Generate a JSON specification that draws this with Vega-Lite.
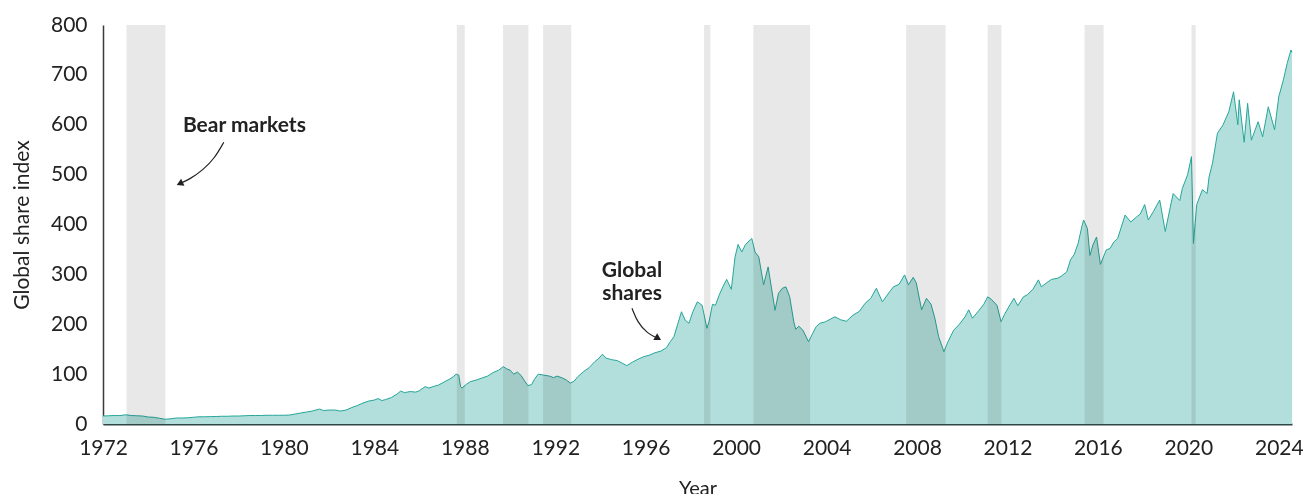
{
  "$schema": "https://vega.github.io/schema/vega-lite/v6.json",
  "width": 1189,
  "height": 399,
  "autosize": {"type": "none"},
  "padding": {"left": 103, "top": 25, "right": 11, "bottom": 70},
  "background": "white",
  "config": {
    "view": {"stroke": null},
    "font": "Lato",
    "text": {"font": "Lato"}
  },
  "datasets": {
    "series": [
      {"date": "1972-01-01", "value": 16}, {"date": "1972-04-01", "value": 16.5}, {"date": "1972-07-01", "value": 17}, {"date": "1972-10-01", "value": 16.8},
      {"date": "1973-01-01", "value": 18.5}, {"date": "1973-04-01", "value": 17}, {"date": "1973-07-01", "value": 16.5}, {"date": "1973-10-01", "value": 16},
      {"date": "1974-01-01", "value": 14}, {"date": "1974-04-01", "value": 13.5}, {"date": "1974-07-01", "value": 11.5}, {"date": "1974-10-01", "value": 9.5},
      {"date": "1975-01-01", "value": 10.5}, {"date": "1975-04-01", "value": 12}, {"date": "1975-07-01", "value": 12}, {"date": "1975-10-01", "value": 12.5},
      {"date": "1976-01-01", "value": 13.5}, {"date": "1976-04-01", "value": 14.5}, {"date": "1976-07-01", "value": 14.5}, {"date": "1976-10-01", "value": 14.8},
      {"date": "1977-01-01", "value": 15}, {"date": "1977-04-01", "value": 15.5}, {"date": "1977-07-01", "value": 15.5}, {"date": "1977-10-01", "value": 16},
      {"date": "1978-01-01", "value": 16}, {"date": "1978-04-01", "value": 16.5}, {"date": "1978-07-01", "value": 17}, {"date": "1978-10-01", "value": 17},
      {"date": "1979-01-01", "value": 17}, {"date": "1979-04-01", "value": 17.5}, {"date": "1979-07-01", "value": 17.5}, {"date": "1979-10-01", "value": 17.5},
      {"date": "1980-01-01", "value": 17.5}, {"date": "1980-04-01", "value": 18}, {"date": "1980-07-01", "value": 20}, {"date": "1980-10-01", "value": 22},
      {"date": "1981-01-01", "value": 24}, {"date": "1981-04-01", "value": 26}, {"date": "1981-08-01", "value": 30}, {"date": "1981-10-01", "value": 27},
      {"date": "1982-01-01", "value": 28}, {"date": "1982-04-01", "value": 28}, {"date": "1982-07-01", "value": 26}, {"date": "1982-10-01", "value": 28},
      {"date": "1983-01-01", "value": 33}, {"date": "1983-04-01", "value": 37}, {"date": "1983-07-01", "value": 42}, {"date": "1983-10-01", "value": 46},
      {"date": "1984-01-01", "value": 48}, {"date": "1984-03-01", "value": 51}, {"date": "1984-05-01", "value": 47}, {"date": "1984-07-01", "value": 49}, {"date": "1984-10-01", "value": 53},
      {"date": "1985-01-01", "value": 60}, {"date": "1985-03-01", "value": 66}, {"date": "1985-05-01", "value": 63}, {"date": "1985-08-01", "value": 65}, {"date": "1985-11-01", "value": 64},
      {"date": "1986-01-01", "value": 67}, {"date": "1986-04-01", "value": 75}, {"date": "1986-06-01", "value": 72}, {"date": "1986-09-01", "value": 76}, {"date": "1986-11-01", "value": 78},
      {"date": "1987-01-01", "value": 82}, {"date": "1987-03-01", "value": 86}, {"date": "1987-05-01", "value": 90}, {"date": "1987-07-01", "value": 95}, {"date": "1987-08-15", "value": 100}, {"date": "1987-09-25", "value": 98}, {"date": "1987-10-25", "value": 75}, {"date": "1987-11-20", "value": 72}, {"date": "1987-12-20", "value": 76},
      {"date": "1988-02-01", "value": 80}, {"date": "1988-04-01", "value": 85}, {"date": "1988-07-01", "value": 88}, {"date": "1988-10-01", "value": 92},
      {"date": "1989-01-01", "value": 96}, {"date": "1989-04-01", "value": 103}, {"date": "1989-07-01", "value": 108}, {"date": "1989-09-15", "value": 115}, {"date": "1989-11-01", "value": 111},
      {"date": "1990-01-01", "value": 108}, {"date": "1990-03-01", "value": 100}, {"date": "1990-05-01", "value": 104}, {"date": "1990-07-01", "value": 97}, {"date": "1990-08-15", "value": 88}, {"date": "1990-10-15", "value": 77}, {"date": "1990-12-15", "value": 79},
      {"date": "1991-02-01", "value": 90}, {"date": "1991-04-01", "value": 100}, {"date": "1991-07-01", "value": 98}, {"date": "1991-10-01", "value": 96}, {"date": "1991-12-01", "value": 93},
      {"date": "1992-02-01", "value": 96}, {"date": "1992-05-01", "value": 92}, {"date": "1992-07-01", "value": 88}, {"date": "1992-09-01", "value": 82}, {"date": "1992-11-01", "value": 86},
      {"date": "1993-01-01", "value": 95}, {"date": "1993-04-01", "value": 105}, {"date": "1993-07-01", "value": 113}, {"date": "1993-10-01", "value": 125}, {"date": "1993-12-01", "value": 131},
      {"date": "1994-02-01", "value": 140}, {"date": "1994-04-01", "value": 132}, {"date": "1994-07-01", "value": 129}, {"date": "1994-10-01", "value": 127},
      {"date": "1995-01-01", "value": 121}, {"date": "1995-03-01", "value": 117}, {"date": "1995-06-01", "value": 124}, {"date": "1995-09-01", "value": 130}, {"date": "1995-12-01", "value": 135},
      {"date": "1996-03-01", "value": 138}, {"date": "1996-06-01", "value": 143}, {"date": "1996-09-01", "value": 146}, {"date": "1996-12-01", "value": 153},
      {"date": "1997-02-01", "value": 165}, {"date": "1997-04-01", "value": 175}, {"date": "1997-06-01", "value": 200}, {"date": "1997-08-01", "value": 225}, {"date": "1997-10-01", "value": 208}, {"date": "1997-12-01", "value": 202},
      {"date": "1998-02-01", "value": 225}, {"date": "1998-04-15", "value": 245}, {"date": "1998-07-01", "value": 238}, {"date": "1998-09-15", "value": 192}, {"date": "1998-10-20", "value": 205}, {"date": "1998-12-15", "value": 240},
      {"date": "1999-02-01", "value": 238}, {"date": "1999-04-01", "value": 258}, {"date": "1999-06-01", "value": 275}, {"date": "1999-08-01", "value": 290}, {"date": "1999-10-15", "value": 270}, {"date": "1999-12-15", "value": 335},
      {"date": "2000-02-01", "value": 360}, {"date": "2000-04-01", "value": 345}, {"date": "2000-06-01", "value": 360}, {"date": "2000-09-10", "value": 372}, {"date": "2000-11-01", "value": 345},
      {"date": "2001-01-01", "value": 335}, {"date": "2001-03-20", "value": 279}, {"date": "2001-06-01", "value": 315}, {"date": "2001-09-20", "value": 228}, {"date": "2001-11-15", "value": 262},
      {"date": "2002-01-15", "value": 272}, {"date": "2002-03-15", "value": 275}, {"date": "2002-05-15", "value": 255}, {"date": "2002-07-20", "value": 205}, {"date": "2002-08-20", "value": 190}, {"date": "2002-10-10", "value": 196}, {"date": "2002-12-15", "value": 188},
      {"date": "2003-03-15", "value": 165}, {"date": "2003-05-15", "value": 180}, {"date": "2003-07-15", "value": 195}, {"date": "2003-09-15", "value": 202}, {"date": "2003-12-15", "value": 205},
      {"date": "2004-03-01", "value": 210}, {"date": "2004-05-15", "value": 215}, {"date": "2004-08-15", "value": 209}, {"date": "2004-11-15", "value": 206},
      {"date": "2005-03-01", "value": 218}, {"date": "2005-06-15", "value": 226}, {"date": "2005-09-15", "value": 242}, {"date": "2005-12-15", "value": 252},
      {"date": "2006-03-15", "value": 272}, {"date": "2006-06-20", "value": 245}, {"date": "2006-10-15", "value": 265}, {"date": "2006-12-15", "value": 275},
      {"date": "2007-03-15", "value": 280}, {"date": "2007-06-15", "value": 299}, {"date": "2007-08-15", "value": 279}, {"date": "2007-10-31", "value": 294}, {"date": "2007-12-20", "value": 283},
      {"date": "2008-03-15", "value": 229}, {"date": "2008-06-01", "value": 252}, {"date": "2008-08-15", "value": 240}, {"date": "2008-10-15", "value": 212}, {"date": "2008-12-15", "value": 175},
      {"date": "2009-03-10", "value": 145}, {"date": "2009-05-15", "value": 165}, {"date": "2009-08-15", "value": 188}, {"date": "2009-11-15", "value": 200},
      {"date": "2010-02-15", "value": 215}, {"date": "2010-04-15", "value": 229}, {"date": "2010-06-15", "value": 212}, {"date": "2010-09-15", "value": 226}, {"date": "2010-12-15", "value": 240},
      {"date": "2011-02-15", "value": 255}, {"date": "2011-04-15", "value": 250}, {"date": "2011-07-15", "value": 238}, {"date": "2011-09-20", "value": 205}, {"date": "2011-11-15", "value": 220},
      {"date": "2012-02-15", "value": 240}, {"date": "2012-04-15", "value": 252}, {"date": "2012-06-15", "value": 237}, {"date": "2012-09-15", "value": 255}, {"date": "2012-11-15", "value": 259},
      {"date": "2013-02-15", "value": 270}, {"date": "2013-05-15", "value": 289}, {"date": "2013-07-01", "value": 275}, {"date": "2013-10-15", "value": 285}, {"date": "2013-12-15", "value": 290},
      {"date": "2014-03-15", "value": 292}, {"date": "2014-05-15", "value": 296}, {"date": "2014-08-15", "value": 305}, {"date": "2014-10-15", "value": 329}, {"date": "2014-12-15", "value": 340},
      {"date": "2015-02-15", "value": 362}, {"date": "2015-04-15", "value": 395}, {"date": "2015-05-15", "value": 409}, {"date": "2015-07-15", "value": 392}, {"date": "2015-08-25", "value": 338}, {"date": "2015-10-15", "value": 360}, {"date": "2015-12-10", "value": 375},
      {"date": "2016-02-10", "value": 320}, {"date": "2016-05-15", "value": 349}, {"date": "2016-07-15", "value": 352}, {"date": "2016-09-15", "value": 365}, {"date": "2016-11-15", "value": 372},
      {"date": "2017-03-15", "value": 419}, {"date": "2017-06-15", "value": 405}, {"date": "2017-09-15", "value": 415}, {"date": "2017-11-15", "value": 421},
      {"date": "2018-01-25", "value": 440}, {"date": "2018-03-25", "value": 409}, {"date": "2018-06-15", "value": 426}, {"date": "2018-09-25", "value": 449}, {"date": "2018-12-24", "value": 386},
      {"date": "2019-03-15", "value": 435}, {"date": "2019-05-01", "value": 462}, {"date": "2019-08-15", "value": 448}, {"date": "2019-09-25", "value": 472}, {"date": "2019-12-20", "value": 500},
      {"date": "2020-02-20", "value": 536}, {"date": "2020-03-23", "value": 362}, {"date": "2020-05-15", "value": 440}, {"date": "2020-08-15", "value": 470}, {"date": "2020-10-30", "value": 462}, {"date": "2020-11-30", "value": 495},
      {"date": "2021-01-25", "value": 523}, {"date": "2021-04-15", "value": 583}, {"date": "2021-07-15", "value": 600}, {"date": "2021-10-15", "value": 626}, {"date": "2021-12-31", "value": 666},
      {"date": "2022-03-10", "value": 600}, {"date": "2022-04-01", "value": 650}, {"date": "2022-06-20", "value": 565}, {"date": "2022-08-15", "value": 643}, {"date": "2022-10-15", "value": 569}, {"date": "2022-12-15", "value": 590},
      {"date": "2023-02-01", "value": 606}, {"date": "2023-04-15", "value": 576}, {"date": "2023-07-15", "value": 636}, {"date": "2023-10-25", "value": 590}, {"date": "2023-12-31", "value": 656},
      {"date": "2024-03-15", "value": 690}, {"date": "2024-05-15", "value": 723}, {"date": "2024-07-15", "value": 750}, {"date": "2024-08-01", "value": 745}
    ],
    "arrowBear": [
      {"date": "1977-05-05", "value": 565},
      {"date": "1976-12-10", "value": 533},
      {"date": "1976-06-01", "value": 509},
      {"date": "1975-11-05", "value": 491},
      {"date": "1975-05-25", "value": 482}
    ],
    "arrowShares": [
      {"date": "1995-05-25", "value": 232},
      {"date": "1995-08-25", "value": 203},
      {"date": "1996-02-01", "value": 181},
      {"date": "1996-07-15", "value": 172}
    ],
    "headBear": [{"date": "1975-05-25", "value": 482}],
    "headShares": [{"date": "1996-07-20", "value": 172}],
    "labelBear": [{"date": "1975-07-15", "value": 586, "label": "Bear markets"}],
    "labelShares": [{"date": "1995-05-25", "value": 295, "label": ["Global", "shares"]}]
  },
  "encoding": {
    "x": {
      "field": "date",
      "type": "temporal",
      "title": "Year",
      "scale": {"domain": [{"year": 1972, "month": 1, "date": 1}, {"year": 2024, "month": 8, "date": 1}], "nice": false},
      "axis": {
        "values": [{"year": 1972}, {"year": 1976}, {"year": 1980}, {"year": 1984}, {"year": 1988}, {"year": 1992}, {"year": 1996}, {"year": 2000}, {"year": 2004}, {"year": 2008}, {"year": 2012}, {"year": 2016}, {"year": 2020}, {"year": 2024}],
        "format": "%Y",
        "grid": false,
        "ticks": false,
        "domainColor": "#2f4747",
        "domainWidth": 2,
        "labelFontSize": 21,
        "labelColor": "#222222",
        "labelPadding": 13,
        "labelFlush": false,
        "labelOverlap": false,
        "titleFontSize": 20,
        "titleFontWeight": "normal",
        "titleColor": "#222222",
        "titlePadding": 20
      }
    },
    "y": {
      "field": "value",
      "type": "quantitative",
      "title": "Global share index",
      "scale": {"domain": [0, 800], "nice": false},
      "axis": {
        "values": [0, 100, 200, 300, 400, 500, 600, 700, 800],
        "grid": false,
        "ticks": false,
        "domainColor": "#3a3a3a",
        "domainWidth": 1.5,
        "labelFontSize": 21,
        "labelColor": "#222222",
        "labelPadding": 16,
        "titleFontSize": 21,
        "titleFontWeight": "normal",
        "titleColor": "#222222",
        "titlePadding": 18
      }
    }
  },
  "layer": [
    {
      "data": {"name": "series"},
      "mark": {"type": "area", "color": "#b2dfdb", "opacity": 1}
    },
    {
      "data": {"name": "series"},
      "mark": {"type": "line", "color": "#26a69a", "strokeWidth": 1}
    },
    {
      "data": {
        "values": [
          {"date": "1973-01-15", "date_end": "1974-10-05", "lo": 0, "hi": 800},
          {"date": "1987-08-25", "date_end": "1987-12-31", "lo": 0, "hi": 800},
          {"date": "1989-09-10", "date_end": "1990-10-25", "lo": 0, "hi": 800},
          {"date": "1991-06-20", "date_end": "1992-09-15", "lo": 0, "hi": 800},
          {"date": "1998-08-01", "date_end": "1998-11-10", "lo": 0, "hi": 800},
          {"date": "2000-10-05", "date_end": "2003-04-10", "lo": 0, "hi": 800},
          {"date": "2007-07-10", "date_end": "2009-04-05", "lo": 0, "hi": 800},
          {"date": "2011-02-15", "date_end": "2011-09-25", "lo": 0, "hi": 800},
          {"date": "2015-05-30", "date_end": "2016-04-01", "lo": 0, "hi": 800},
          {"date": "2020-02-20", "date_end": "2020-04-28", "lo": 0, "hi": 800}
        ],
        "format": {"parse": {"date": "date", "date_end": "date"}}
      },
      "mark": {"type": "rect", "color": "#e8e8e8", "opacity": 1, "blend": "multiply"},
      "encoding": {
        "x2": {"field": "date_end"},
        "y": {"field": "lo", "type": "quantitative"},
        "y2": {"field": "hi"}
      }
    },
    {
      "data": {"name": "labelBear"},
      "mark": {"type": "text", "align": "left", "baseline": "alphabetic", "fontSize": 21, "fontWeight": "bold", "color": "#222222"},
      "encoding": {"text": {"field": "label"}}
    },
    {
      "data": {"name": "labelShares"},
      "mark": {"type": "text", "align": "center", "baseline": "alphabetic", "fontSize": 21, "fontWeight": "bold", "color": "#222222", "lineHeight": 23},
      "encoding": {"text": {"field": "label"}}
    },
    {
      "data": {"name": "arrowBear"},
      "mark": {"type": "line", "color": "#222222", "strokeWidth": 1.2, "interpolate": "basis"},
      "encoding": {}
    },
    {
      "data": {"name": "arrowShares"},
      "mark": {"type": "line", "color": "#222222", "strokeWidth": 1.2, "interpolate": "basis"},
      "encoding": {}
    },
    {
      "data": {"name": "headBear"},
      "mark": {"type": "point", "shape": "triangle-left", "filled": true, "color": "#222222", "size": 60, "opacity": 1, "angle": 335},
      "encoding": {}
    },
    {
      "data": {"name": "headShares"},
      "mark": {"type": "point", "shape": "triangle-right", "filled": true, "color": "#222222", "size": 60, "opacity": 1, "angle": 30},
      "encoding": {}
    }
  ]
}
